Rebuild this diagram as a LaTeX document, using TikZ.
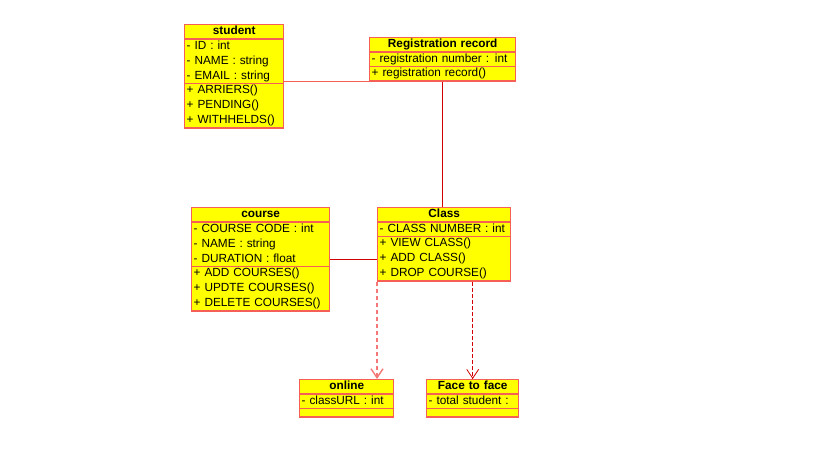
\documentclass[tikz,border=0pt]{standalone}
\usepackage{fontspec}
\setmainfont{Liberation Sans}
\usetikzlibrary{shapes,arrows,calc,arrows.meta}

\definecolor{boxfill}{RGB}{255,255,0}
\definecolor{boxline}{RGB}{245,95,85}
\definecolor{linkred}{RGB}{210,0,0}
\definecolor{linkpink}{RGB}{245,120,120}

\tikzset{
  umlclass/.style={rectangle split, rectangle split parts=3, draw=boxline,
    fill=boxfill, line width=1.4pt, anchor=north west, inner xsep=2pt,
    inner ysep=-1pt, align=left,
    font=\fontsize{11.8}{15}\selectfont},
  assoc/.style={draw=linkred, line width=0.8pt},
  assocpale/.style={draw=boxline, line width=1.1pt},
  realize/.style={draw=linkred, line width=0.8pt, dash pattern=on 4pt off 2pt,
    -{Straight Barb[length=9pt,width=12pt]}},
  realizepale/.style={draw=linkpink, line width=1.4pt, dash pattern=on 4pt off 3pt,
    -{Straight Barb[length=9pt,width=12pt]}}
}
\newcommand{\ctitle}[1]{\strut\hfill\textbf{#1}\hfill\null}
\newcommand{\emptypart}{\rule{0pt}{9pt}}

\begin{document}
\begin{tikzpicture}[x=1pt,y=-1pt]
            \useasboundingbox (0,0) rectangle (819,460);
            \draw (184,24) node[umlclass, text width=95pt] (student)
                {\ctitle{student}
                 \nodepart{two}\strut- ID : int\\\strut- NAME : string\\\strut- EMAIL : string
                 \nodepart{three}\strut+ ARRIERS()\\\strut+ PENDING()\\\strut+ WITHHELDS()};
            \draw (369,37) node[umlclass, text width=142pt] (reg)
                {\ctitle{Registration record}
                 \nodepart{two}\strut- registration number : int
                 \nodepart{three}\strut+ registration record()};
            \draw (191,207) node[umlclass, text width=134pt] (course)
                {\ctitle{course}
                 \nodepart{two}\strut- COURSE CODE : int\\\strut- NAME : string\\\strut- DURATION : float
                 \nodepart{three}\strut+ ADD COURSES()\\\strut+ UPDTE COURSES()\\\strut+ DELETE COURSES()};
            \draw (377,207) node[umlclass, text width=129pt] (class)
                {\ctitle{Class}
                 \nodepart{two}\strut- CLASS NUMBER : int
                 \nodepart{three}\strut+ VIEW CLASS()\\\strut+ ADD CLASS()\\\strut+ DROP COURSE()};
            \draw (299,379) node[umlclass, text width=90pt] (online)
                {\ctitle{online}
                 \nodepart{two}\strut- classURL : int
                 \nodepart{three}\emptypart};
            \draw (426,379) node[umlclass, text width=88pt] (face)
                {\ctitle{Face to face}
                 \nodepart{two}\strut- total student :
                 \nodepart{three}\emptypart};
            \path[assocpale] (student.east |- reg.south) -- (reg.south west);
            \path[assoc] (reg.south) -- (reg.south |- class.north)
                         (course.east) -- (course.east -| class.west);
            \path[realizepale] (class.south west) -- (class.south west |- online.north);
            \path[realize] (face.north |- class.south) -- (face.north);
        \end{tikzpicture}
\end{document}
